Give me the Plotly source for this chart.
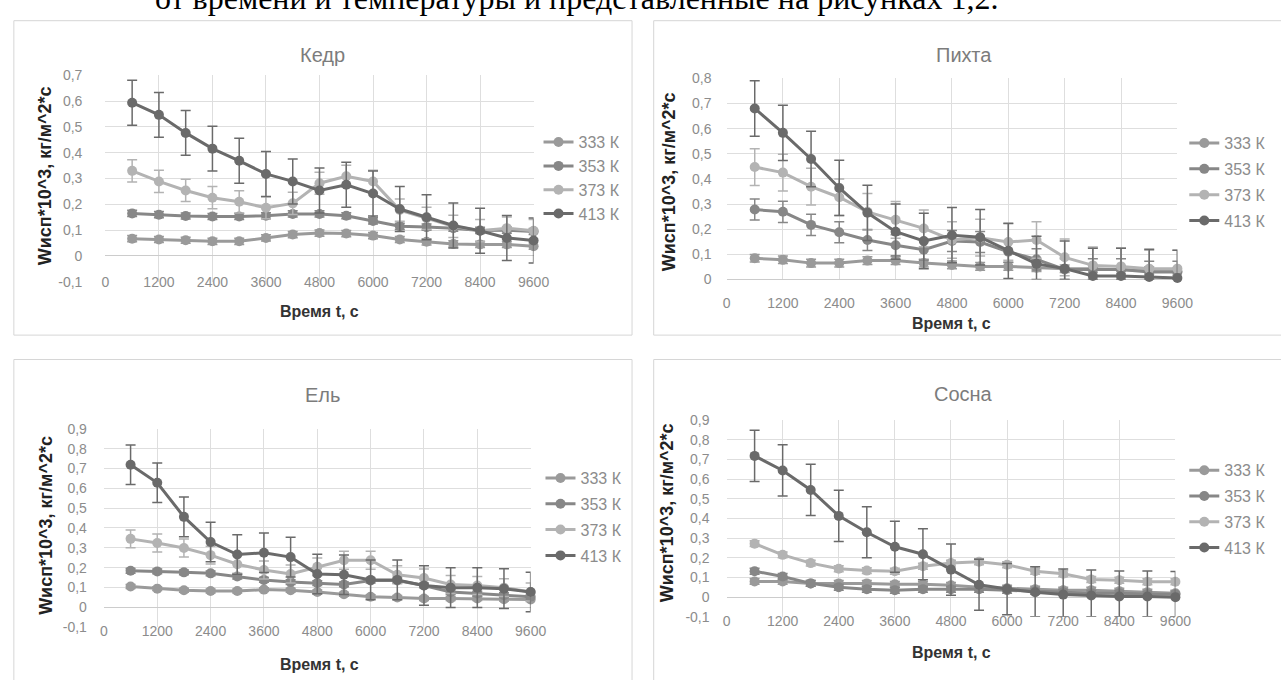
import plotly.graph_objects as go

W, H = 1281, 680

# ---------------- data ----------------
TIME_S = [600, 1200, 1800, 2400, 3000, 3600, 4200, 4800, 5400, 6000, 6600, 7200, 7800, 8400, 9000, 9600]
SERIES = ["333 К", "353 К", "373 К", "413 К"]

KEDR_333 = [0.067, 0.064, 0.061, 0.057, 0.057, 0.070, 0.083, 0.089, 0.087, 0.079, 0.064, 0.055, 0.047, 0.045, 0.045, 0.038]
KEDR_353 = [0.165, 0.160, 0.155, 0.153, 0.153, 0.156, 0.163, 0.163, 0.156, 0.136, 0.115, 0.112, 0.108, 0.099, 0.100, 0.095]
KEDR_373 = [0.330, 0.289, 0.254, 0.226, 0.210, 0.187, 0.204, 0.282, 0.309, 0.289, 0.178, 0.146, 0.115, 0.098, 0.108, 0.098]
KEDR_413 = [0.594, 0.547, 0.477, 0.416, 0.369, 0.318, 0.289, 0.254, 0.276, 0.242, 0.182, 0.150, 0.118, 0.098, 0.070, 0.060]
KEDR_ERR = [0.012, 0.012, 0.043, 0.087]

PIHTA_333 = [0.084, 0.078, 0.065, 0.065, 0.075, 0.075, 0.065, 0.058, 0.052, 0.052, 0.047, 0.043, 0.043, 0.039, 0.036, 0.032]
PIHTA_353 = [0.278, 0.269, 0.217, 0.188, 0.157, 0.136, 0.118, 0.153, 0.149, 0.110, 0.080, 0.040, 0.040, 0.040, 0.030, 0.030]
PIHTA_373 = [0.447, 0.425, 0.369, 0.327, 0.269, 0.237, 0.203, 0.157, 0.166, 0.149, 0.157, 0.088, 0.056, 0.052, 0.043, 0.043]
PIHTA_413 = [0.680, 0.583, 0.479, 0.364, 0.265, 0.190, 0.153, 0.176, 0.168, 0.114, 0.062, 0.043, 0.014, 0.014, 0.010, 0.006]
PIHTA_ERR = [0.015, 0.042, 0.073, 0.110]

EL_333 = [0.105, 0.094, 0.086, 0.082, 0.082, 0.089, 0.086, 0.077, 0.066, 0.053, 0.049, 0.044, 0.044, 0.044, 0.041, 0.039]
EL_353 = [0.184, 0.181, 0.176, 0.171, 0.155, 0.138, 0.127, 0.122, 0.115, 0.135, 0.135, 0.110, 0.077, 0.069, 0.061, 0.053]
EL_373 = [0.345, 0.324, 0.299, 0.263, 0.217, 0.188, 0.168, 0.204, 0.237, 0.237, 0.164, 0.148, 0.115, 0.110, 0.099, 0.077]
EL_413 = [0.719, 0.628, 0.456, 0.329, 0.266, 0.275, 0.253, 0.168, 0.164, 0.138, 0.138, 0.110, 0.099, 0.099, 0.094, 0.077]
EL_ERR = [0.010, 0.012, 0.045, 0.100]

SOSNA_333 = [0.080, 0.080, 0.070, 0.070, 0.070, 0.065, 0.065, 0.060, 0.050, 0.045, 0.040, 0.035, 0.035, 0.030, 0.025, 0.020]
SOSNA_353 = [0.132, 0.105, 0.070, 0.050, 0.040, 0.035, 0.040, 0.040, 0.040, 0.035, 0.030, 0.025, 0.020, 0.020, 0.015, 0.015]
SOSNA_373 = [0.272, 0.215, 0.173, 0.144, 0.135, 0.132, 0.157, 0.173, 0.180, 0.165, 0.132, 0.119, 0.090, 0.086, 0.078, 0.078]
SOSNA_413 = [0.718, 0.644, 0.545, 0.413, 0.330, 0.256, 0.218, 0.140, 0.063, 0.041, 0.025, 0.013, 0.008, 0.003, 0.003, 0.000]
SOSNA_ERR = [0.015, 0.015, 0.015, 0.130]

X_TICKS = [0, 1200, 2400, 3600, 4800, 6000, 7200, 8400, 9600]
X_TICK_TEXT = ["0", "1200", "2400", "3600", "4800", "6000", "7200", "8400", "9600"]

Y_TICKS_KEDR = [-0.1, 0, 0.1, 0.2, 0.3, 0.4, 0.5, 0.6, 0.7]
Y_TEXT_KEDR = ["-0,1", "0", "0,1", "0,2", "0,3", "0,4", "0,5", "0,6", "0,7"]
Y_TICKS_PIHTA = [0, 0.1, 0.2, 0.3, 0.4, 0.5, 0.6, 0.7, 0.8]
Y_TEXT_PIHTA = ["0", "0,1", "0,2", "0,3", "0,4", "0,5", "0,6", "0,7", "0,8"]
Y_TICKS_09 = [-0.1, 0, 0.1, 0.2, 0.3, 0.4, 0.5, 0.6, 0.7, 0.8, 0.9]
Y_TEXT_09 = ["-0,1", "0", "0,1", "0,2", "0,3", "0,4", "0,5", "0,6", "0,7", "0,8", "0,9"]

TITLES = ["Кедр", "Пихта", "Ель", "Сосна"]
X_TITLE = "Время t, с"
Y_TITLE = "Wисп*10^3, кг/м^2*с"
HEADER = "от времени и температуры и представленные на рисунках 1,2."

# ---------------- style ----------------
COLORS = ["#9a9a9a", "#878787", "#b3b3b3", "#6a6a6a"]
GRID = "#dedede"
TICK_FONT = dict(family="Liberation Sans Narrow, Arial Narrow, Liberation Sans, sans-serif", size=14, color="#8c8c8c")
LEG_FONT = dict(family="Liberation Sans, Arial, sans-serif", size=16, color="#8c8c8c")
TITLE_FONT = dict(family="Liberation Sans, Arial, sans-serif", size=20, color="#7c7c7c")
AXT_FONT = dict(family="Liberation Sans, Arial, sans-serif", size=16, color="#333333", weight="bold")
YT_FONT = dict(family="Liberation Sans, Arial, sans-serif", size=18, color="#222222", weight="bold")


def fx(px):
    return px / W


def fy(py):
    return 1 - py / H


PANELS = [
    dict(data=[KEDR_333, KEDR_353, KEDR_373, KEDR_413], err=KEDR_ERR,
         yt=Y_TICKS_KEDR, ytt=Y_TEXT_KEDR, box=(10, 13, 638, 335), plot=(103, 69, 538, 280.4),
         title_xy=(324, 48), ytitle_xy=(42, 172), xtitle_xy=(320, 311), leg_xy=(543, 120), leg_gap=0,
         xstand=-10, ystand=22),
    dict(data=[PIHTA_333, PIHTA_353, PIHTA_373, PIHTA_413], err=PIHTA_ERR,
         yt=Y_TICKS_PIHTA, ytt=Y_TEXT_PIHTA, box=(660, 13, 1300, 335), plot=(734, 72, 1192, 278),
         title_xy=(975, 48), ytitle_xy=(675, 178), xtitle_xy=(963, 323), leg_xy=(1199, 121), leg_gap=2,
         xstand=14, ystand=14),
    dict(data=[EL_333, EL_353, EL_373, EL_413], err=EL_ERR,
         yt=Y_TICKS_09, ytt=Y_TEXT_09, box=(10, 360, 638, 700), plot=(101.5, 431, 535, 634),
         title_xy=(324, 396), ytitle_xy=(42, 530), xtitle_xy=(320, 672), leg_xy=(545, 464), leg_gap=2,
         xstand=-6, ystand=16),
    dict(data=[SOSNA_333, SOSNA_353, SOSNA_373, SOSNA_413], err=SOSNA_ERR,
         yt=Y_TICKS_09, ytt=Y_TEXT_09, box=(660, 360, 1300, 700), plot=(734, 422, 1190, 623.5),
         title_xy=(975, 395), ytitle_xy=(673, 517), xtitle_xy=(963, 660), leg_xy=(1199, 456), leg_gap=2,
         xstand=-6, ystand=16),
]

fig = go.Figure()
layout = dict(
    width=W, height=H, margin=dict(l=0, r=0, t=0, b=0),
    paper_bgcolor="white", plot_bgcolor="white",
    shapes=[], annotations=[], hovermode=False,
)

for i, p in enumerate(PANELS):
    n = "" if i == 0 else str(i + 1)
    xa, ya = "x" + n, "y" + n
    leg = "legend" + n
    ymin, ymax = p["yt"][0], p["yt"][-1]
    for s, (name, vals) in enumerate(zip(SERIES, p["data"])):
        e = p["err"][s]
        fig.add_trace(go.Scatter(
            x=TIME_S, y=vals, name=name, mode="lines+markers",
            xaxis=xa, yaxis=ya, legend=leg, legendgroup=f"g{i}{s}",
            line=dict(color=COLORS[s], width=3),
            marker=dict(color=COLORS[s], size=10),
            error_y=dict(type="data", symmetric=False,
                         array=[min(e, ymax - v) for v in vals],
                         arrayminus=[min(e, v - ymin) for v in vals],
                         color=COLORS[s], thickness=1.5, width=5),
            cliponaxis=False,
        ))
    x0, y0, x1, y1 = p["plot"]
    layout["xaxis" + n] = dict(
        domain=[fx(x0), fx(x1)], range=[0, 9600], anchor=ya,
        tickmode="array", tickvals=X_TICKS, ticktext=X_TICK_TEXT,
        showgrid=True, gridcolor=GRID, gridwidth=1, zeroline=False, showline=False,
        ticks="", tickfont=TICK_FONT, ticklabelstandoff=p["xstand"], fixedrange=True,
    )
    layout["yaxis" + n] = dict(
        domain=[fy(y1), fy(y0)], range=[ymin, ymax], anchor=xa,
        tickmode="array", tickvals=p["yt"], ticktext=p["ytt"],
        showgrid=True, gridcolor=GRID, gridwidth=1,
        zeroline=True, zerolinecolor="#cccccc", zerolinewidth=1, showline=False,
        ticks="", tickfont=TICK_FONT, ticklabelstandoff=p["ystand"], fixedrange=True,
    )
    lx, ly = p["leg_xy"]
    layout[leg] = dict(
        x=fx(lx), y=fy(ly), xanchor="left", yanchor="top",
        bgcolor="rgba(0,0,0,0)", borderwidth=0, font=LEG_FONT,
        tracegroupgap=p["leg_gap"], traceorder="grouped", itemclick=False, itemdoubleclick=False,
    )
    bx0, by0, bx1, by1 = p["box"]
    layout["shapes"].append(dict(
        type="rect", xref="paper", yref="paper", layer="below",
        x0=fx(bx0), x1=fx(bx1), y0=fy(by1), y1=fy(by0),
        line=dict(color="#d6d6d6", width=1), fillcolor="rgba(0,0,0,0)",
    ))
    tx, ty = p["title_xy"]
    layout["annotations"].append(dict(
        text=TITLES[i], x=fx(tx), y=fy(ty), xref="paper", yref="paper",
        xanchor="center", yanchor="middle", showarrow=False, font=TITLE_FONT,
    ))
    ax_, ay_ = p["xtitle_xy"]
    layout["annotations"].append(dict(
        text=X_TITLE, x=fx(ax_), y=fy(ay_), xref="paper", yref="paper",
        xanchor="center", yanchor="middle", showarrow=False, font=AXT_FONT,
    ))
    yx, yy = p["ytitle_xy"]
    layout["annotations"].append(dict(
        text=Y_TITLE, x=fx(yx), y=fy(yy), xref="paper", yref="paper", textangle=-90,
        xanchor="center", yanchor="middle", showarrow=False, font=YT_FONT,
    ))

layout["annotations"].append(dict(
    text=HEADER, x=fx(582), y=fy(-10), xref="paper", yref="paper",
    xanchor="center", yanchor="middle", showarrow=False,
    font=dict(family="Liberation Serif, Times New Roman, serif", size=32, color="#000000"),
))

fig.update_layout(**layout)
fig.write_html("out.html", config=dict(displayModeBar=False, staticPlot=True),
               post_script="document.body.style.margin='0';document.body.style.overflow='hidden';")
